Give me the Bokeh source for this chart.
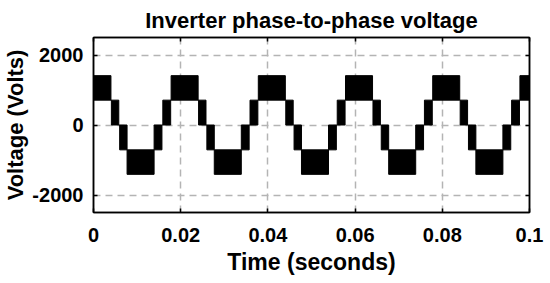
from bokeh.plotting import figure
from bokeh.models import Range1d, FixedTicker, LinearAxis
from bokeh.embed import file_html
from bokeh.resources import INLINE

# PWM voltage bands: each block is a time span where the line switches between v_low and v_high
t_on = [0.0000, 0.0041, 0.0060, 0.0077, 0.0139, 0.0159,
        0.0178, 0.0241, 0.0260, 0.0277, 0.0339, 0.0359,
        0.0378, 0.0441, 0.0460, 0.0477, 0.0539, 0.0559,
        0.0578, 0.0641, 0.0660, 0.0677, 0.0739, 0.0759,
        0.0778, 0.0841, 0.0860, 0.0877, 0.0939, 0.0959,
        0.0978]
t_off = [0.0040, 0.0058, 0.0077, 0.0139, 0.0157, 0.0177,
         0.0240, 0.0258, 0.0277, 0.0339, 0.0357, 0.0377,
         0.0440, 0.0458, 0.0477, 0.0539, 0.0557, 0.0577,
         0.0640, 0.0658, 0.0677, 0.0739, 0.0757, 0.0777,
         0.0840, 0.0858, 0.0877, 0.0939, 0.0957, 0.0977,
         0.1000]
v_low = [710, 0, -710, -1410, -710, 0,
         710, 0, -710, -1410, -710, 0,
         710, 0, -710, -1410, -710, 0,
         710, 0, -710, -1410, -710, 0,
         710, 0, -710, -1410, -710, 0,
         710]
v_high = [1410, 710, 0, -710, 0, 710,
          1410, 710, 0, -710, 0, 710,
          1410, 710, 0, -710, 0, 710,
          1410, 710, 0, -710, 0, 710,
          1410, 710, 0, -710, 0, 710,
          1410]

x_ticks = [0, 0.02, 0.04, 0.06, 0.08, 0.1]
x_tick_labels = ["0", "0.02", "0.04", "0.06", "0.08", "0.1"]
y_ticks = [-2000, 0, 2000]
y_tick_labels = ["-2000", "0", "2000"]

FONT = "Liberation Sans"

p = figure(width=550, height=283,
           x_range=Range1d(0, 0.1), y_range=Range1d(-2500, 2500),
           output_backend="svg", toolbar_location=None,
           min_border_left=92, min_border_right=21,
           min_border_top=36, min_border_bottom=71)

p.title.text = "Inverter phase-to-phase voltage"
p.title.align = "center"
p.title.text_font = FONT
p.title.text_font_size = "22px"
p.title.text_font_style = "bold"
p.title.text_color = "black"
p.title.standoff = 10

p.outline_line_color = "black"
p.outline_line_width = 1.5
p.outline_line_alpha = 1

# blocks
p.quad(left=t_on, right=t_off, bottom=v_low, top=v_high,
       fill_color="black", line_color="black", line_width=1)

# connecting lines in gaps between blocks
gx0, gx1, gy = [], [], []
for i in range(len(t_on) - 1):
    if v_high[i] == v_low[i + 1]:
        lvl = v_high[i]
    else:
        lvl = v_low[i]
    gx0.append(t_off[i]); gx1.append(t_on[i + 1]); gy.append(lvl)
p.segment(x0=gx0, x1=gx1, y0=gy, y1=gy, line_color="black", line_width=1.2)

for ax, ticks, labels in ((p.xaxis[0], x_ticks, x_tick_labels), (p.yaxis[0], y_ticks, y_tick_labels)):
    ax.ticker = FixedTicker(ticks=ticks)
    ax.major_label_overrides = dict(zip(ticks, labels))
    ax.major_label_text_font = FONT
    ax.major_label_text_font_size = "20px"
    ax.major_label_text_font_style = "bold"
    ax.major_label_text_color = "black"
    ax.axis_label_text_font = FONT
    ax.axis_label_text_font_size = "22px"
    ax.axis_label_text_font_style = "bold"
    ax.axis_label_text_color = "black"
    ax.major_tick_in = 4
    ax.major_tick_out = 0
    ax.minor_tick_line_color = None
    ax.axis_line_color = "black"
    ax.axis_line_width = 1.5
    ax.major_tick_line_color = "black"
    ax.major_tick_line_width = 1.5

p.xaxis.axis_label = "Time (seconds)"
p.xaxis.axis_label_text_font_size = "23px"
p.yaxis.axis_label = "Voltage (Volts)"
p.xaxis.major_label_standoff = 15
p.yaxis.major_label_standoff = 10
p.xaxis.axis_label_standoff = 4
p.yaxis.axis_label_standoff = 1

for loc, ticks in (("right", y_ticks), ("above", x_ticks)):
    ax = LinearAxis(ticker=FixedTicker(ticks=ticks))
    ax.major_label_text_font_size = "0px"
    ax.major_label_standoff = 0
    ax.major_tick_in = 4
    ax.major_tick_out = 0
    ax.minor_tick_line_color = None
    ax.axis_line_color = "black"
    ax.axis_line_width = 1.5
    ax.major_tick_line_color = "black"
    ax.major_tick_line_width = 1.5
    p.add_layout(ax, loc)

p.xgrid.ticker = FixedTicker(ticks=x_ticks)
p.ygrid.ticker = FixedTicker(ticks=y_ticks)
for g in (p.xgrid[0], p.ygrid[0]):
    g.grid_line_color = "#b4b4b4"
    g.grid_line_width = 1.5
    g.grid_line_dash = "7 5"

p.background_fill_color = "white"
p.border_fill_color = "white"

open("out.html", "w").write(file_html(p, INLINE))
